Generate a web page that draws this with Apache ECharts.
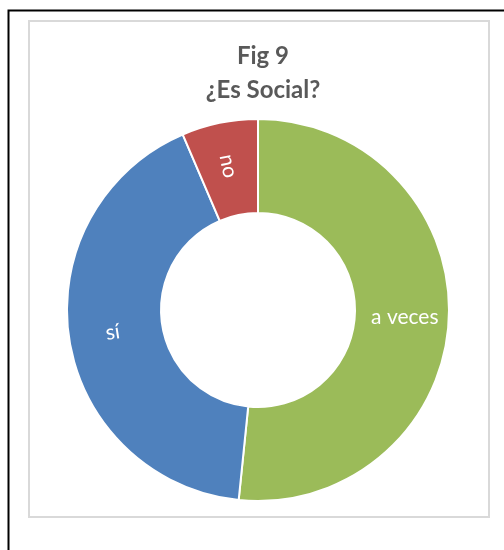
<!DOCTYPE html>
<html>
<head>
<meta charset="utf-8">
<script src="https://cdn.jsdelivr.net/npm/echarts@6/dist/echarts.min.js"></script>
<style>
    html, body { margin: 0; padding: 0; background: #fff; }
    #chart { width: 504px; height: 550px; }
</style>
</head>
<body>
<div id="chart"></div>
<script>
// datos
var categorias = ['a veces', 'sí', 'no'];
var valores = [16, 13, 2];
var colores = ['#9BBB59', '#4F81BD', '#C0504D'];
var rotaciones = [0, 9, -79];

var chart = echarts.init(document.getElementById('chart'));

var datos = categorias.map(function (c, i) {
    return {
        name: c,
        value: valores[i],
        itemStyle: { color: colores[i] },
        label: { rotate: rotaciones[i] }
    };
});

var option = {
    animation: false,
    title: {
        text: 'Fig 9\n¿Es Social?',
        left: 258,
        top: 34,
        textAlign: 'center',
        textStyle: {
            fontFamily: 'Lato',
            fontWeight: 'bold',
            fontSize: 24,
            lineHeight: 34,
            color: '#595959'
        }
    },
    graphic: [
        {
            type: 'rect',
            shape: { x: 29, y: 21, width: 460, height: 496 },
            style: { fill: 'none', stroke: '#d9d9d9', lineWidth: 2 }
        },
        {
            type: 'polyline',
            shape: { points: [[8.5, 560], [8.5, 10.5], [510, 10.5]] },
            style: { fill: 'none', stroke: '#000', lineWidth: 2 }
        }
    ],
    series: [{
        type: 'pie',
        center: [258, 310],
        radius: [97, 191],
        startAngle: 90,
        clockwise: true,
        avoidLabelOverlap: false,
        itemStyle: {
            borderColor: '#fff',
            borderWidth: 2
        },
        label: {
            show: true,
            position: 'inside',
            formatter: '{b}',
            color: '#fff',
            fontFamily: 'Lato',
            fontSize: 21
        },
        labelLine: { show: false },
        emphasis: { disabled: true },
        data: datos
    }]
};

chart.setOption(option);
window.addEventListener('resize', function () {
    chart.resize();
});
</script>
</body>
</html>
